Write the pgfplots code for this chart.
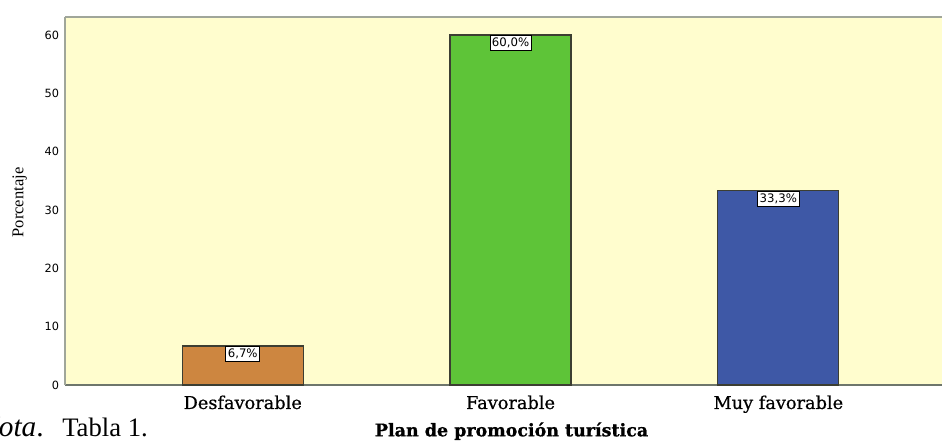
\documentclass[border=0pt]{standalone}
\usepackage{fontspec}
\usepackage{pgfplots}
\pgfplotsset{compat=1.18}
\setmainfont{Liberation Serif}
\newfontfamily\catfont[FakeBold=0.6]{DejaVu Serif}
\newfontfamily\titlefont[FakeBold=0.8]{DejaVu Serif}
\newfontfamily\tickfont{DejaVu Sans}
\definecolor{bg}{RGB}{255,253,206}
\definecolor{c1}{RGB}{205,134,64}
\definecolor{c2}{RGB}{94,196,56}
\definecolor{c3}{RGB}{62,88,166}
\definecolor{axgray}{RGB}{160,166,154}
\definecolor{axdark}{RGB}{110,118,108}
\definecolor{edge}{RGB}{60,62,50}
\begin{document}
\begin{tikzpicture}
\useasboundingbox (-48.75pt,-42.75pt) rectangle (657.75pt,288.75pt);
\begin{axis}[name=ax, at={(0,0)}, anchor=south west, scale only axis,
  width=657.75pt, height=276pt,
  xmin=-0.6636, xmax=2.611, ymin=0, ymax=63.1,
  axis background/.style={fill=bg},
  axis x line=bottom, axis y line=left,
  x axis line style={-, draw=axdark, line width=1.2pt},
  y axis line style={-, draw=axgray, line width=1.5pt},
  major tick length=0pt,
  ybar, bar width=0.452,
  xtick={0,1,2}, xticklabels={Desfavorable,Favorable,Muy favorable},
  xticklabel style={anchor=base, yshift=-18pt, inner sep=0pt, font=\catfont\fontsize{13.3}{13.3}\selectfont},
  ytick={0,10,...,60},
  yticklabel style={anchor=east, xshift=-4.3pt, inner sep=0pt, font=\tickfont\fontsize{8.5}{8.5}\selectfont},
  /pgf/number format/assume math mode=true,
  nodes near coords, point meta=explicit symbolic,
  every node near coord/.append style={anchor=north, fill=white, draw=black, line width=0.6pt,
     inner xsep=1.5pt, inner ysep=2pt, font=\tickfont\fontsize{8.8}{8.8}\selectfont},
  clip=false,
]
\addplot[bar shift=0pt, fill=c1, draw=edge, line width=0.9pt] coordinates {(0,6.7) [{6,7\%}]};
\addplot[bar shift=0pt, fill=c2, draw=edge, line width=0.9pt] coordinates {(1,60.0) [{60,0\%}]};
\addplot[bar shift=0pt, fill=c3, draw=edge, line width=0.9pt] coordinates {(2,33.3) [{33,3\%}]};
\draw[axgray, line width=1.5pt] (rel axis cs:0,1) -- (rel axis cs:1,1);
\end{axis}
\node[rotate=90, anchor=base, font=\fontsize{12.4}{12.4}\selectfont] at (-31.3pt,136.9pt) {Porcentaje};
\node[anchor=base east, inner sep=0pt, font=\fontsize{22}{22}\selectfont] at (-15.75pt,-39pt) {\textit{Nota}.};
\node[anchor=base west, font=\fontsize{20}{20}\selectfont, inner sep=0pt] at (-2.25pt,-39pt) {Tabla 1.};
\node[anchor=base, font=\titlefont\bfseries\fontsize{13.1}{13.1}\selectfont] at (334.9pt,-38.5pt) {Plan de promoción turística};
\end{tikzpicture}
\end{document}
